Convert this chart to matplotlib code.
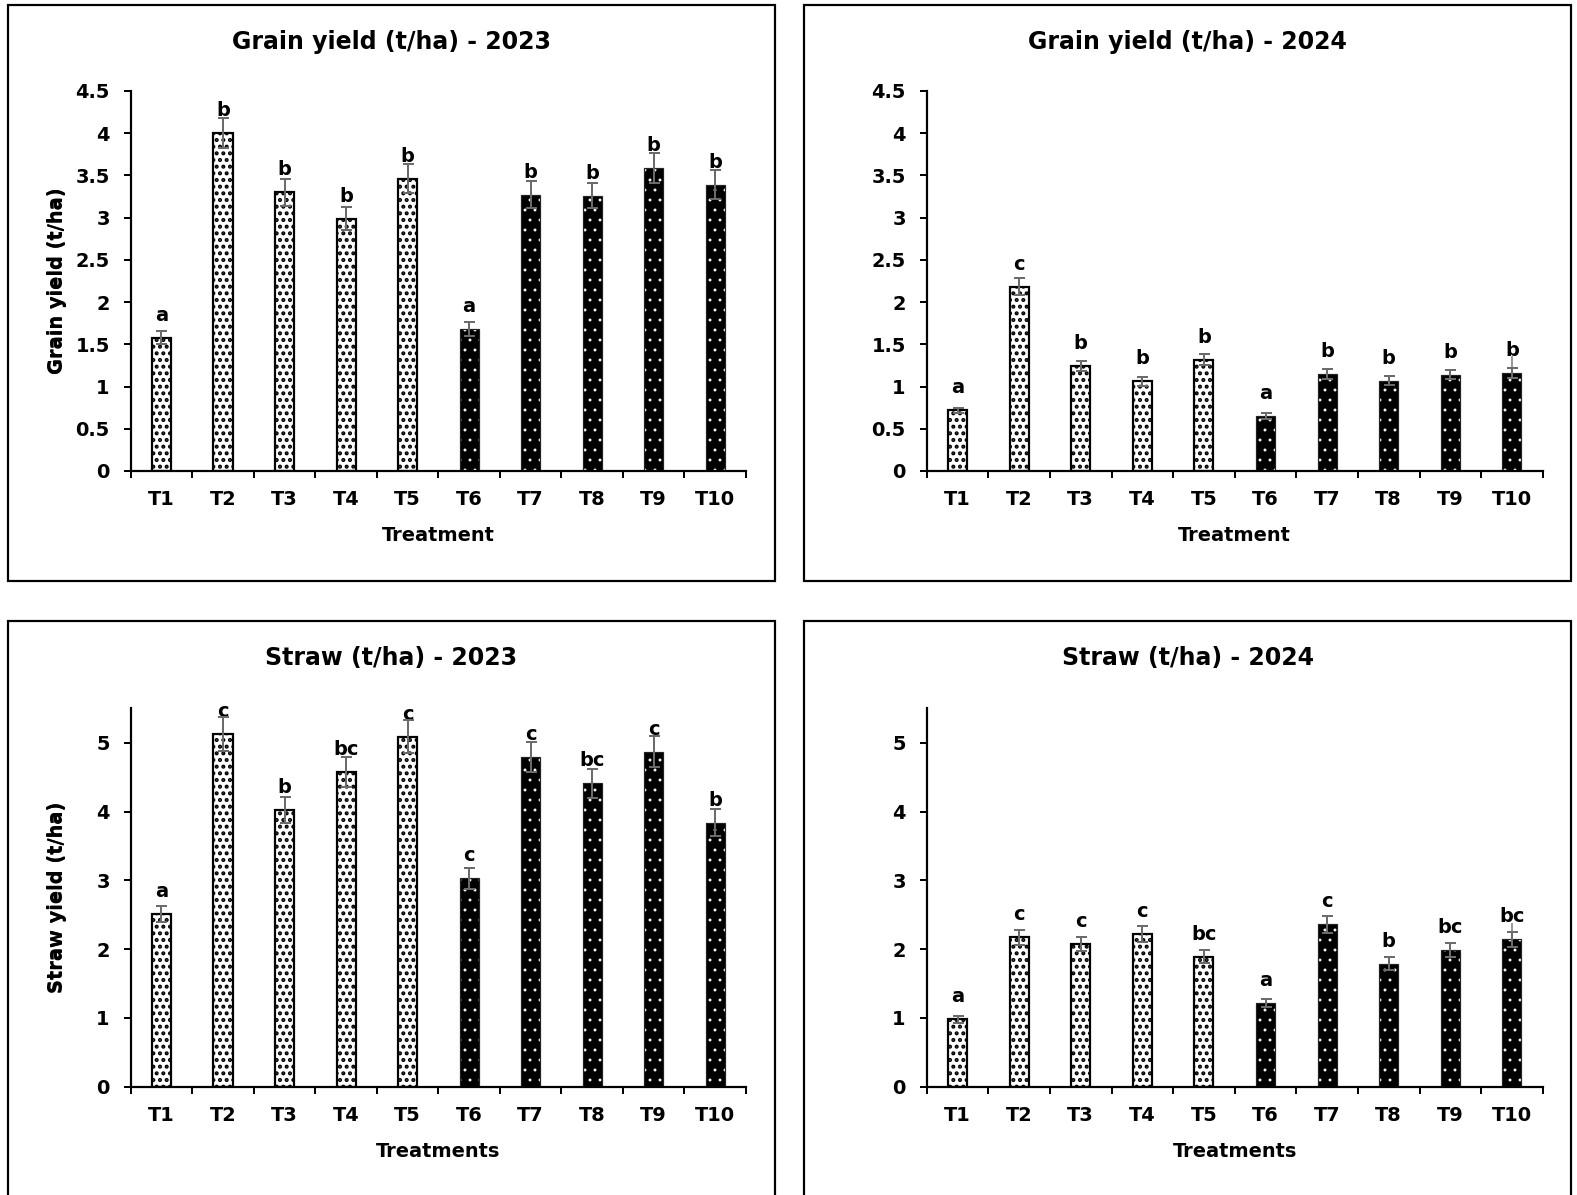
import numpy as np
import matplotlib
matplotlib.use("Agg")
import matplotlib.pyplot as plt
from matplotlib.patches import Rectangle

DPI = 120
W, H = 1577, 1195


def pt(px):
    """Convert a size given in output pixels to points."""
    return px * 72.0 / DPI


plt.rcParams['font.family'] = ['DejaVu Sans']
plt.rcParams['font.weight'] = 'bold'
plt.rcParams['hatch.linewidth'] = pt(1.4)

treatments = ['T1', 'T2', 'T3', 'T4', 'T5', 'T6', 'T7', 'T8', 'T9', 'T10']

grain_2023 = [1.58, 4.00, 3.30, 2.99, 3.46, 1.68, 3.27, 3.26, 3.59, 3.39]
grain_2023_err = [0.08, 0.18, 0.16, 0.14, 0.17, 0.08, 0.16, 0.15, 0.18, 0.17]
grain_2023_letters = ['a', 'b', 'b', 'b', 'b', 'a', 'b', 'b', 'b', 'b']

grain_2024 = [0.72, 2.18, 1.24, 1.06, 1.32, 0.65, 1.15, 1.07, 1.14, 1.16]
grain_2024_err = [0.03, 0.10, 0.06, 0.055, 0.06, 0.035, 0.055, 0.055, 0.055, 0.055]
grain_2024_letters = ['a', 'c', 'b', 'b', 'b', 'a', 'b', 'b', 'b', 'b']
grain_2024_t10_upper = 1.35

straw_2023 = [2.51, 5.13, 4.02, 4.57, 5.09, 3.03, 4.79, 4.41, 4.87, 3.84]
straw_2023_err = [0.12, 0.25, 0.19, 0.22, 0.24, 0.15, 0.22, 0.21, 0.23, 0.19]
straw_2023_letters = ['a', 'c', 'b', 'bc', 'c', 'c', 'c', 'bc', 'c', 'b']

straw_2024 = [0.98, 2.17, 2.07, 2.22, 1.89, 1.22, 2.36, 1.79, 1.99, 2.14]
straw_2024_err = [0.05, 0.11, 0.10, 0.11, 0.09, 0.06, 0.12, 0.09, 0.10, 0.11]
straw_2024_letters = ['a', 'c', 'c', 'c', 'bc', 'a', 'c', 'b', 'bc', 'bc']
straw_2024_t10_upper = 2.37

grain_ticks = [0, 0.5, 1, 1.5, 2, 2.5, 3, 3.5, 4, 4.5]
grain_tick_labels = ['0', '0.5', '1', '1.5', '2', '2.5', '3', '3.5', '4', '4.5']
straw_ticks = [0, 1, 2, 3, 4, 5]
straw_tick_labels = ['0', '1', '2', '3', '4', '5']

FS = pt(19.4)
TITLE_FS = pt(23.6)
ERR_COLOR = '#6b6b6b'


def set_hatch_width(container, width_px):
    for patch in container.patches:
        if hasattr(patch, 'set_hatch_linewidth'):
            patch.set_hatch_linewidth(pt(width_px))


def draw_panel(fig, box, axes_px, title, title_y, ylabel, xlabel, ymax,
               ticks, tick_labels, values, errors, letters, t10_upper=None):
    bx0, by0, bx1, by1 = box
    fig.patches.append(Rectangle((bx0 / W, 1 - by1 / H), (bx1 - bx0) / W,
                                 (by1 - by0) / H, transform=fig.transFigure,
                                 fill=False, edgecolor='black',
                                 linewidth=pt(2.2)))
    fig.text((bx0 + bx1) / 2 / W, 1 - title_y / H, title, ha='center',
             va='center', fontsize=TITLE_FS, fontweight='bold')

    left, top, right, bottom = axes_px
    ax = fig.add_axes([left / W, 1 - bottom / H, (right - left) / W,
                       (bottom - top) / H])
    x = np.arange(len(treatments))
    vals = np.asarray(values)
    errs = np.asarray(errors)
    width = 0.31

    # T1-T5: white bars with black dots
    light = ax.bar(x[:5], vals[:5], width=width, color='white',
                   edgecolor='black', hatch='...', linewidth=pt(2.2), zorder=2)
    set_hatch_width(light, 2.7)
    # T6-T10: black bars with small white dots
    dark = ax.bar(x[5:], vals[5:], width=width, color='black',
                  edgecolor='white', hatch='..', linewidth=0, zorder=2)
    set_hatch_width(dark, 0.9)
    ax.bar(x[5:], vals[5:], width=width, fill=False, edgecolor='#222222',
           linewidth=pt(1.2), zorder=2)

    if t10_upper is not None:
        ax.plot([x[-1], x[-1]], [vals[-1] + errs[-1], t10_upper],
                color='#9a9a9a', linewidth=pt(2), zorder=3)
    ax.errorbar(x, vals, yerr=errs, fmt='none', ecolor=ERR_COLOR,
                elinewidth=pt(2), capsize=pt(5.5), capthick=pt(2), zorder=4)

    for xi, v, lab in zip(x, vals, letters):
        ax.annotate(lab, (xi, v), xytext=(0, pt(17)), textcoords='offset points',
                    ha='center', va='baseline', fontsize=FS, fontweight='bold')

    ax.set_xlim(-0.5, len(treatments) - 0.5)
    ax.set_ylim(0, ymax)
    ax.set_xticks(x)
    ax.set_xticklabels(treatments, fontsize=FS, fontweight='bold')
    ax.set_xticks(np.arange(-0.5, len(treatments), 1.0), minor=True)
    ax.tick_params(axis='x', which='major', length=0, pad=pt(19))
    ax.tick_params(axis='x', which='minor', length=pt(7), width=pt(2),
                   direction='out')
    ax.set_yticks(ticks)
    ax.set_yticklabels(tick_labels, fontsize=FS, fontweight='bold')
    ax.tick_params(axis='y', length=pt(7), width=pt(2), direction='out',
                   pad=pt(14))

    for side in ('top', 'right'):
        ax.spines[side].set_visible(False)
    for side in ('left', 'bottom'):
        ax.spines[side].set_linewidth(pt(2.2))

    ax.set_xlabel(xlabel, fontsize=FS, fontweight='bold', va='center')
    ax.xaxis.set_label_coords(0.5, -65.0 / (bottom - top))
    ax.set_ylabel(ylabel, fontsize=FS, fontweight='bold', va='center')
    ax.yaxis.set_label_coords((57.0 - left) / (right - left), 0.5)
    return ax


fig = plt.figure(figsize=(W / DPI, H / DPI), dpi=DPI)

draw_panel(fig, (8, 5, 775, 581), (130.7, 91, 746, 471),
           'Grain yield (t/ha) - 2023', 42, 'Grain yield (t/ha)', 'Treatment',
           4.5, grain_ticks, grain_tick_labels,
           grain_2023, grain_2023_err, grain_2023_letters)
draw_panel(fig, (804, 5, 1571, 581), (926.7, 91, 1542.7, 471),
           'Grain yield (t/ha) - 2024', 42, 'Grain yield (t/ha)', 'Treatment',
           4.5, grain_ticks, grain_tick_labels,
           grain_2024, grain_2024_err, grain_2024_letters,
           t10_upper=grain_2024_t10_upper)
draw_panel(fig, (8, 621, 775, 1215), (130.7, 708.3, 746, 1086.7),
           'Straw (t/ha) - 2023', 658, 'Straw yield (t/ha)', 'Treatments',
           5.5, straw_ticks, straw_tick_labels,
           straw_2023, straw_2023_err, straw_2023_letters)
draw_panel(fig, (804, 621, 1571, 1215), (926.7, 708.3, 1542.7, 1086.7),
           'Straw (t/ha) - 2024', 658, 'Straw yield (t/ha)', 'Treatments',
           5.5, straw_ticks, straw_tick_labels,
           straw_2024, straw_2024_err, straw_2024_letters,
           t10_upper=straw_2024_t10_upper)

fig.savefig('out.png', dpi=DPI, facecolor='white')
